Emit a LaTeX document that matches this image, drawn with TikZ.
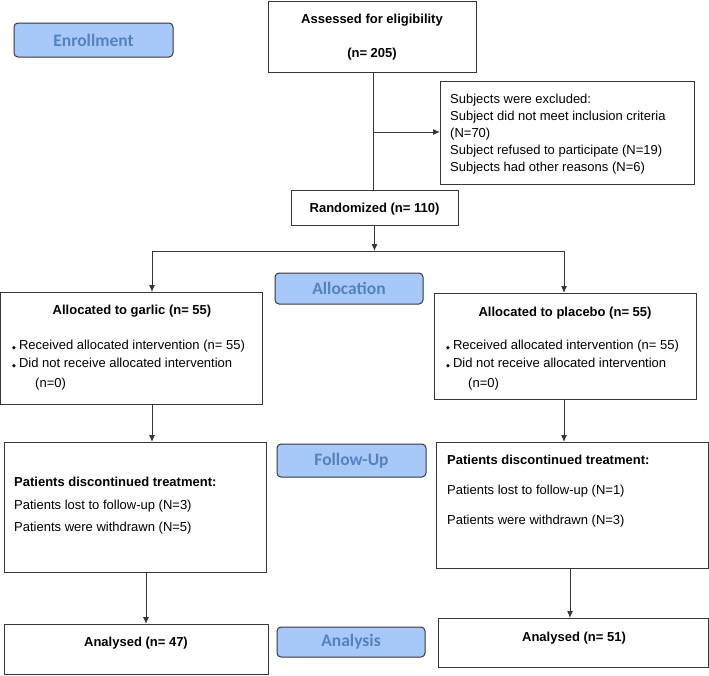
\documentclass[tikz,border=0pt]{standalone}
\usepackage{fontspec}
\setmainfont{Liberation Sans}
\newfontfamily\labelfont{Carlito}
\newfontfamily\symfont{DejaVu Sans}
\usetikzlibrary{arrows.meta}
\definecolor{lblfill}{RGB}{168,200,250}
\definecolor{lbltext}{RGB}{84,130,190}
\definecolor{edge}{RGB}{55,55,55}
\newcommand{\dbul}{{\symfont\fontsize{5}{5}\selectfont ◆}\hspace{3pt}}
\begin{document}
\begin{tikzpicture}[x=1pt,y=-1pt,
  box/.style={draw=edge,line width=1pt,inner sep=0pt,outer sep=0pt,fill=white},
  lbl/.style={draw=edge,line width=1pt,fill=lblfill,rounded corners=4pt,inner sep=0pt,outer sep=0pt,
    text=lbltext,font=\labelfont\bfseries\fontsize{17.5}{20}\selectfont},
  txt/.style={inner sep=0pt,font=\fontsize{13}{15}\selectfont},
  btxt/.style={inner sep=0pt,font=\bfseries\fontsize{13}{15}\selectfont},
  link/.style={draw=edge,line width=1pt},
  arr/.style={draw=edge,line width=1pt,-{Latex[length=7pt,width=6pt]}}]
\useasboundingbox (0,0) rectangle (709,675);

% stage labels
\node[lbl,minimum width=159pt,minimum height=34pt] (enroll) at (93.5,40) {Enrollment};
\node[lbl,minimum width=148pt,minimum height=31pt] (alloc) at (349,288.5) {Allocation};
\node[lbl,minimum width=149pt,minimum height=33pt] (follow) at (351.5,460.5) {Follow-Up};
\node[lbl,minimum width=148pt,minimum height=30pt] (analysis) at (351,642) {Analysis};

% boxes
\node[box,minimum width=208pt,minimum height=71pt] (assess) at (372,36.5) {};
\node[btxt,anchor=base] (assessA) at (372,23.5) {Assessed for eligibility};
\node[btxt,anchor=base] (assessB) at (372,57.5) {(n= 205)};

\node[box,minimum width=254pt,minimum height=103pt] (excl) at (567,132.5) {};
\node[txt,anchor=base west] (ex1) at (450,103.5) {Subjects were excluded:};
\node[txt,anchor=base west] (ex2) at (450,120.5) {Subject did not meet inclusion criteria};
\node[txt,anchor=base west] (ex3) at (450,137.5) {(N=70)};
\node[txt,anchor=base west] (ex4) at (450,154.5) {Subject refused to participate (N=19)};
\node[txt,anchor=base west] (ex5) at (450,171.5) {Subjects had other reasons (N=6)};

\node[box,minimum width=167pt,minimum height=35pt] (rand) at (374.5,207.5) {};
\node[btxt,anchor=base] (randT) at (374.5,212.5) {Randomized (n= 110)};

\node[box,minimum width=262pt,minimum height=112pt] (garlic) at (131,348) {};
\node[btxt,anchor=base] (garlicT) at (132,314.5) {Allocated to garlic (n= 55)};
\node[txt,anchor=base west] (g1) at (12,349.5) {\dbul Received allocated intervention (n= 55)};
\node[txt,anchor=base west] (g2) at (12,367.5) {\dbul Did not receive allocated intervention};
\node[txt,anchor=base west] (g3) at (35,387.5) {(n=0)};

\node[box,minimum width=262pt,minimum height=106pt] (placebo) at (565,346) {};
\node[btxt,anchor=base] (placeboT) at (565,316.5) {Allocated to placebo (n= 55)};
\node[txt,anchor=base west] (p1) at (446,349.5) {\dbul Received allocated intervention (n= 55)};
\node[txt,anchor=base west] (p2) at (446,367.5) {\dbul Did not receive allocated intervention};
\node[txt,anchor=base west] (p3) at (468,387.5) {(n=0)};

\node[box,minimum width=262pt,minimum height=130pt] (discL) at (135,507) {};
\node[btxt,anchor=base west] (dl1) at (14,486.5) {Patients discontinued treatment:};
\node[txt,anchor=base west] (dl2) at (14,509.5) {Patients lost to follow-up (N=3)};
\node[txt,anchor=base west] (dl3) at (14,531.5) {Patients were withdrawn (N=5)};

\node[box,minimum width=272pt,minimum height=126pt] (discR) at (572,505) {};
\node[btxt,anchor=base west] (dr1) at (447,464.5) {Patients discontinued treatment:};
\node[txt,anchor=base west] (dr2) at (447,494.5) {Patients lost to follow-up (N=1)};
\node[txt,anchor=base west] (dr3) at (447,524.5) {Patients were withdrawn (N=3)};

\node[box,minimum width=264pt,minimum height=50pt] (anaL) at (136,649) {};
\node[btxt,anchor=base] (anaLT) at (136,646.5) {Analysed (n= 47)};

\node[box,minimum width=270pt,minimum height=49pt] (anaR) at (573,642.5) {};
\node[btxt,anchor=base] (anaRT) at (574,641.5) {Analysed (n= 51)};

% connectors
\coordinate (trunk) at (373,0);
\coordinate (exJ) at (373,132);
\draw[link] (assess.south -| trunk) -- (rand.north -| trunk);
\draw[arr] (exJ) -- (excl.west |- exJ);

\coordinate (split) at (374.5,251);
\coordinate (splitL) at (152,251);
\coordinate (splitR) at (564,251);
\draw[arr] (rand.south) -- (split);
\draw[link] (splitL) -- (splitR);
\draw[arr] (splitL) -- (splitL |- garlic.north);
\draw[arr] (splitR) -- (splitR |- placebo.north);

\draw[arr] (garlic.south -| splitL) -- (splitL |- discL.north);
\draw[arr] (placebo.south -| splitR) -- (splitR |- discR.north);

\coordinate (colL) at (146,0);
\coordinate (colR) at (570,0);
\draw[arr] (discL.south -| colL) -- (anaL.north -| colL);
\draw[arr] (discR.south -| colR) -- (anaR.north -| colR);
\end{tikzpicture}
\end{document}
